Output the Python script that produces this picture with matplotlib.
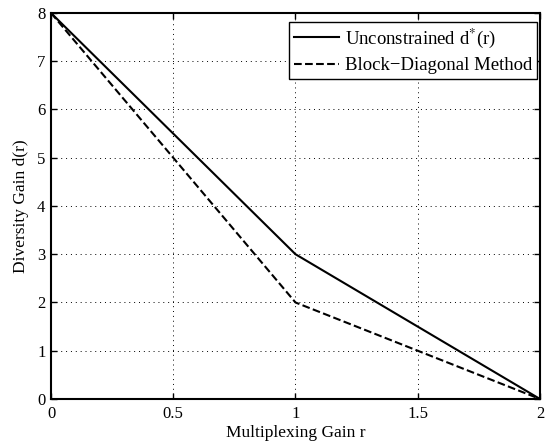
import matplotlib
matplotlib.use("Agg")
import matplotlib.pyplot as plt

# Diversity-multiplexing tradeoff curves
r_points = [0, 1, 2]
d_unconstrained = [8, 3, 0]
d_block_diag = [8, 2, 0]

x_ticks = [0, 0.5, 1, 1.5, 2]
x_tick_labels = ["0", "0.5", "1", "1.5", "2"]
y_ticks = [0, 1, 2, 3, 4, 5, 6, 7, 8]

plt.rcParams['font.family'] = ['Liberation Serif', 'DejaVu Serif']
plt.rcParams['mathtext.fontset'] = 'stix'

fig = plt.figure(figsize=(5.45, 4.45), dpi=100)
ax = fig.add_axes([0.0936, 0.1034, 0.8972, 0.8674])

ax.plot(r_points, d_unconstrained, 'k-', linewidth=1.5,
        label=r'Unconstrained d$^{*}$(r)')
ax.plot(r_points, d_block_diag, 'k--', linewidth=1.5,
        label='Block\u2212Diagonal Method')

ax.set_xlim(0, 2)
ax.set_ylim(0, 8)
ax.set_xticks(x_ticks)
ax.set_xticklabels(x_tick_labels)
ax.set_yticks(y_ticks)
ax.tick_params(direction='in', labelsize=12, length=4, width=1,
               top=True, right=True)
ax.tick_params(axis='x', pad=5)
ax.tick_params(axis='y', pad=4)
# sparse dotted grid, like MATLAB's
ax.grid(True, linestyle=(0, (1, 4)), color='k', linewidth=0.7)
for s in ax.spines.values():
    s.set_linewidth(1.5)

ax.set_xlabel('Multiplexing Gain r', fontsize=12.5, labelpad=2)
ax.set_ylabel('Diversity Gain d(r)', fontsize=12.5, labelpad=6)

leg = ax.legend(loc='upper right', fontsize=13.5, fancybox=False,
                framealpha=1, edgecolor='k', handlelength=2.4,
                handletextpad=0.32, bbox_to_anchor=(0.994, 0.977),
                borderaxespad=0.0, borderpad=0.25, labelspacing=0.38)
leg.get_frame().set_linewidth(1.0)

fig.savefig('out.png', dpi=100)
